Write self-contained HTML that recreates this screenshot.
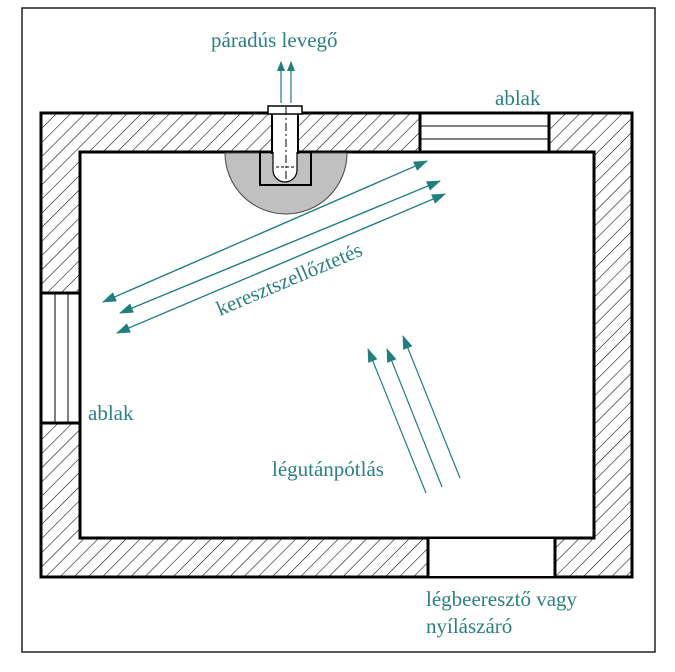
<!DOCTYPE html>
<html><head><meta charset="utf-8"><style>
html,body{margin:0;padding:0;background:#fff}
svg{display:block}
text{font-family:"Liberation Serif",serif;fill:#2a8080;font-size:21px}
</style></head><body>
<svg width="675" height="672" viewBox="0 0 675 672" xmlns="http://www.w3.org/2000/svg">
<defs>
<pattern id="h" patternUnits="userSpaceOnUse" width="10" height="10" patternTransform="rotate(45)">
<rect width="10" height="10" fill="#fff"/><line x1="0" y1="0" x2="0" y2="10" stroke="#000" stroke-width="1.1"/>
</pattern>
<marker id="a" markerWidth="10" markerHeight="8" refX="9" refY="4" orient="auto" markerUnits="userSpaceOnUse" viewBox="0 0 10 8">
<path d="M0,0 L10,4 L0,8 Z" fill="#1f7f7f"/></marker>
<marker id="b" markerWidth="14" markerHeight="10" refX="13" refY="5" orient="auto" markerUnits="userSpaceOnUse">
<path d="M0,0 L14,5 L0,10 Z" fill="#1f7f7f"/></marker>
</defs>
<rect x="22" y="8" width="633" height="644" fill="none" stroke="#222" stroke-width="1.5"/>
<path d="M41,113 H632 V577 H41 Z M80,152 V538 H594 V152 Z" fill="url(#h)" fill-rule="evenodd" stroke="#000" stroke-width="3"/>
<rect x="420" y="113" width="129" height="39" fill="#fff" stroke="#000" stroke-width="3"/>
<line x1="420" y1="126" x2="549" y2="126" stroke="#000"/>
<line x1="420" y1="139" x2="549" y2="139" stroke="#000"/>
<rect x="41" y="293" width="39" height="130" fill="#fff" stroke="#000" stroke-width="3"/>
<line x1="55" y1="293" x2="55" y2="423" stroke="#000"/>
<line x1="68" y1="293" x2="68" y2="423" stroke="#000"/>
<rect x="428" y="539" width="127" height="37" fill="#fff"/>
<line x1="428" y1="538" x2="428" y2="577" stroke="#000" stroke-width="3"/>
<line x1="555" y1="538" x2="555" y2="577" stroke="#000" stroke-width="3"/>
<path d="M225,153 A61,61 0 0 0 347,153 Z" fill="#c0c0c0" stroke="#444"/>
<rect x="260" y="152" width="51" height="33" fill="none" stroke="#000" stroke-width="2"/>
<rect x="272" y="113" width="26" height="40" fill="#fff" stroke="#000" stroke-width="2"/>
<path d="M273,152 V170 A12,12 0 0 0 297,170 V152" fill="#fff" stroke="#000" stroke-width="1.2"/>
<rect x="268" y="106" width="34" height="8" fill="#fff" stroke="#000" stroke-width="1.5"/>
<line x1="286" y1="107" x2="286" y2="180" stroke="#000" stroke-dasharray="8,3,2,3"/>
<line x1="276" y1="167" x2="296" y2="167" stroke="#000" stroke-dasharray="3,2"/>
<line x1="281" y1="103" x2="281" y2="62" stroke="#1f7f7f" stroke-width="1.2" marker-end="url(#a)"/>
<line x1="291" y1="103" x2="291" y2="62" stroke="#1f7f7f" stroke-width="1.2" marker-end="url(#a)"/>
<g stroke="#1f7f7f" stroke-width="1.2">
<line x1="103" y1="302" x2="427" y2="161" marker-end="url(#b)"/>
<line x1="427" y1="161" x2="103" y2="302" marker-end="url(#b)"/>
<line x1="120" y1="313" x2="440" y2="181" marker-end="url(#b)"/>
<line x1="440" y1="181" x2="120" y2="313" marker-end="url(#b)"/>
<line x1="117" y1="333" x2="445" y2="194" marker-end="url(#b)"/>
<line x1="445" y1="194" x2="117" y2="333" marker-end="url(#b)"/>
<line x1="426" y1="493" x2="368" y2="349" marker-end="url(#b)"/>
<line x1="442" y1="487" x2="387" y2="349" marker-end="url(#b)"/>
<line x1="460" y1="478" x2="403" y2="336" marker-end="url(#b)"/>
</g>
<text x="211" y="47">páradús levegő</text>
<text x="495" y="105">ablak</text>
<text x="88" y="420">ablak</text>
<text x="272" y="476">légutánpótlás</text>
<text x="220" y="316" transform="rotate(-23 220 316)">keresztszellőztetés</text>
<text x="426" y="606">légbeeresztő vagy</text>
<text x="426" y="633">nyílászáró</text>
</svg>
</body></html>
